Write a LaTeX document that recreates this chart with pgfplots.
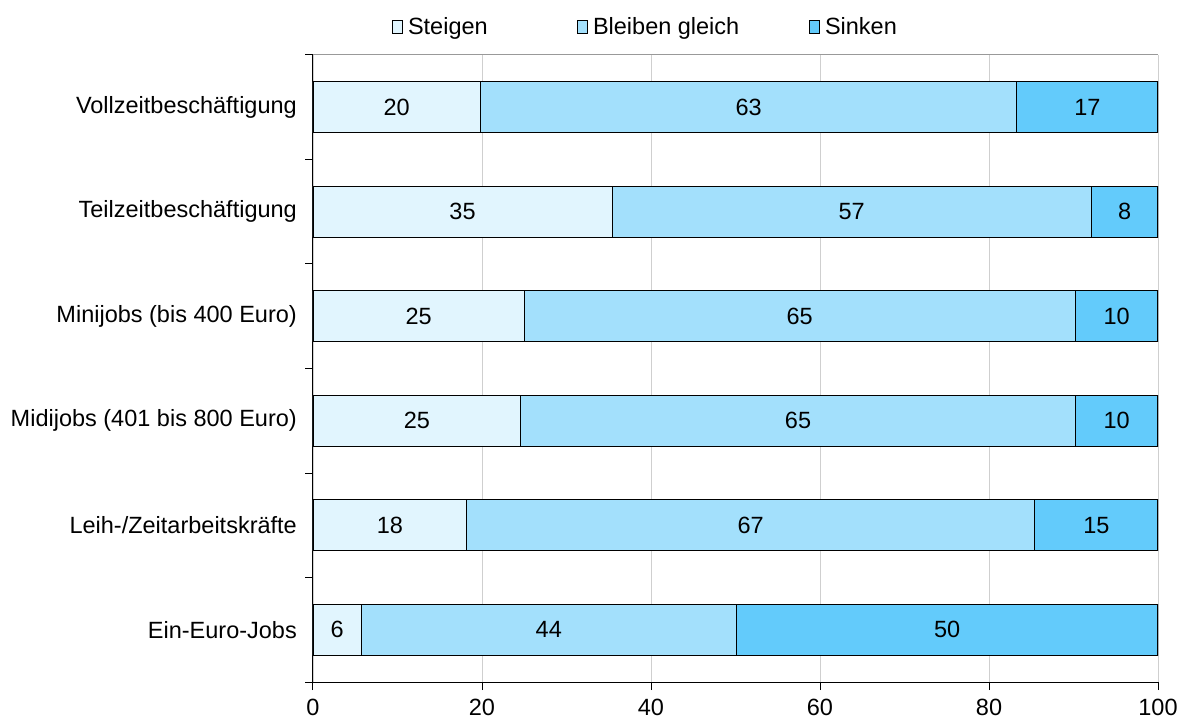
\documentclass[border=0pt]{standalone}
\usepackage{pgfplots}
\pgfplotsset{compat=1.18}
\usepackage{fontspec}
\setmainfont{Liberation Sans}
\definecolor{cLight}{HTML}{E1F5FE}
\definecolor{cMid}{HTML}{A3E0FC}
\definecolor{cDark}{HTML}{63CBFB}
\definecolor{gridc}{HTML}{CFCFCF}
\definecolor{topc}{HTML}{999999}
\begin{document}
\begin{tikzpicture}
\useasboundingbox (0,0) rectangle (1179pt,724pt);
\pgfplotsset{
  common/.style={
    at={(313pt,42pt)}, anchor=south west,
    scale only axis, width=845pt, height=627pt,
    xmin=0, xmax=100, ymin=-0.5, ymax=5.5,
    font=\fontsize{23.5pt}{28pt}\selectfont,
  }
}
\begin{axis}[common,
  xbar stacked, bar width=51pt,
  axis x line*=bottom, axis y line*=left,
  axis line style={black, line width=1pt, -},
  xtick={0,20,...,100},
  xmajorgrids, major grid style={gridc, line width=0.8pt},
  tick align=outside, major tick length=8pt,
  tick style={black, line width=1pt},
  xticklabel style={inner sep=0pt, anchor=north, yshift=-9pt},
  /pgf/number format/assume math mode=true,
  ytick={-0.5,0.5,...,5.5}, yticklabels={},
  extra y ticks={0,1,2,3,4,5},
  extra y tick labels={Ein-Euro-Jobs,Leih-/Zeitarbeitskräfte,Midijobs (401 bis 800 Euro),Minijobs (bis 400 Euro),Teilzeitbeschäftigung,Vollzeitbeschäftigung},
  extra y tick style={major tick length=0pt, yticklabel style={inner sep=0pt, anchor=east, xshift=-16pt}},
  legend columns=3,
  legend style={at={(0.0935,1.0447)}, anchor=west, draw=none, fill=none,
    inner sep=0pt, outer sep=0pt,
    nodes={inner sep=0pt, outer sep=0pt, anchor=west},
    /tikz/every even column/.append style={column sep=0pt},
    /tikz/every odd column/.append style={column sep=0pt}},
  legend image code/.code={\draw[#1, line width=1pt] (-0.5pt,-6.5pt) rectangle (9.5pt,6.5pt);},
]
\addplot[draw=black, line width=1.2pt, fill=cLight] coordinates {(5.7,0) (18.2,1) (24.6,2) (25.0,3) (35.4,4) (19.8,5)};
\addplot[draw=black, line width=1.2pt, fill=cMid] coordinates {(44.4,0) (67.2,1) (65.6,2) (65.2,3) (56.7,4) (63.5,5)};
\addplot[draw=black, line width=1.2pt, fill=cDark] coordinates {(49.9,0) (14.6,1) (9.8,2) (9.8,3) (7.9,4) (16.7,5)};
\addlegendentry{\hspace*{5pt}\makebox[169pt][l]{Steigen}}
\addlegendentry{\hspace*{5pt}\makebox[216pt][l]{Bleiben gleich}}
\addlegendentry{\hspace*{5pt}Sinken}
\draw[topc, line width=1pt] (rel axis cs:0,1) -- (rel axis cs:1,1);
\end{axis}
\begin{axis}[common, hide axis]
\addplot[only marks, mark=none, point meta=explicit symbolic,
  nodes near coords, every node near coord/.append style={anchor=center, inner sep=0pt, font=\fontsize{23.5pt}{28pt}\selectfont}]
  coordinates {
  (2.85,0)[6] (27.9,0)[44] (75.05,0)[50]
  (9.1,1)[18] (51.8,1)[67] (92.7,1)[15]
  (12.3,2)[25] (57.4,2)[65] (95.1,2)[10]
  (12.5,3)[25] (57.6,3)[65] (95.1,3)[10]
  (17.7,4)[35] (63.75,4)[57] (96.05,4)[8]
  (9.9,5)[20] (51.55,5)[63] (91.65,5)[17]
  };
\end{axis}
\end{tikzpicture}
\end{document}
